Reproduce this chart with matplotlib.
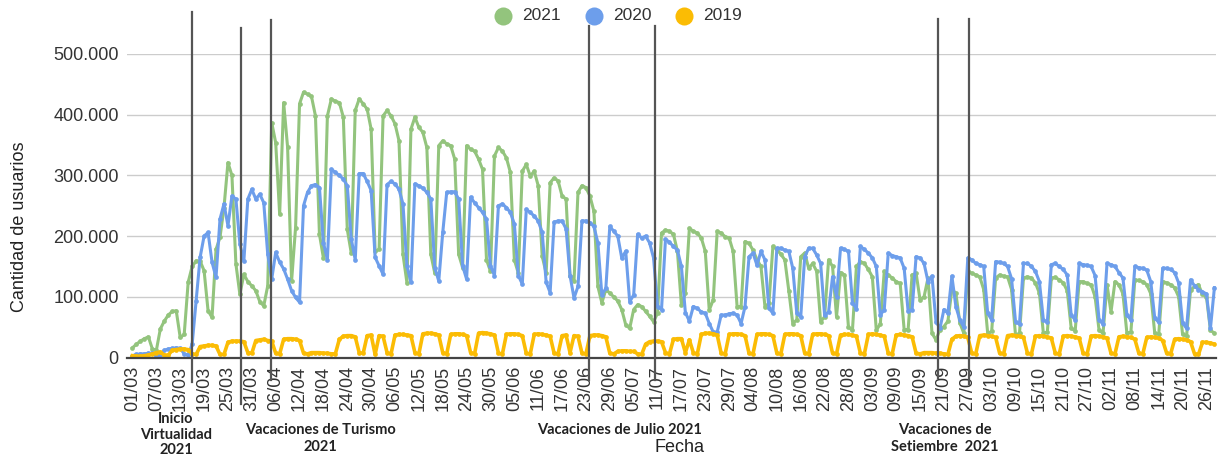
import numpy as np
import matplotlib
matplotlib.use("Agg")
import matplotlib.pyplot as plt
import matplotlib.transforms as mtransforms
from matplotlib.lines import Line2D

W, H, DPI = 1223, 455, 100

# ---------------- data (daily users, thousands; 01/03 .. 28/11) ----------------
series_names = ["2021", "2020", "2019"]
series_colors = ["#93c47d", "#6d9eeb", "#fbbc04"]

users_2021 = [
    16, 22, 27, 31, 34, 14, 12,
    47, 60, 70, 76, 77, 33, 38,
    124, 150, 159, 159, 143, 77, 66,
    178, 198, 247, 321, 300, 154, 104,
    137, 125, 118, 110, 92, 85, 118,
    387, 354, 236, 420, 346, 126, 214,
    418, 437, 434, 430, 398, 203, 164,
    398, 426, 422, 420, 396, 211, 172,
    407, 426, 418, 409, 376, 175, 178,
    398, 407, 398, 385, 357, 170, 123,
    376, 396, 379, 371, 346, 170, 139,
    349, 357, 352, 349, 327, 170, 148,
    349, 343, 340, 327, 310, 161, 142,
    332, 346, 340, 329, 305, 161, 139,
    307, 318, 299, 307, 283, 167, 139,
    288, 296, 291, 266, 261, 134, 126,
    272, 283, 280, 266, 241, 117, 90,
    112, 106, 100, 93, 79, 54, 48,
    79, 87, 84, 76, 68, 59, 73,
    205, 210, 208, 203, 175, 86, 106,
    213, 208, 205, 197, 175, 78, 95,
    208, 205, 199, 197, 175, 84, 84,
    191, 188, 177, 161, 150, 84, 89,
    183, 178, 170, 161, 110, 56, 62,
    166, 172, 147, 155, 142, 59, 67,
    161, 150, 67, 140, 136, 50, 45,
    150, 158, 155, 145, 133, 45, 55,
    142, 136, 131, 125, 122, 46, 46,
    136, 139, 95, 100, 131, 40, 29,
    46, 51, 60, 112, 106, 57, 40,
    142, 139, 136, 133, 112, 40, 43,
    131, 136, 134, 133, 112, 37, 40,
    131, 133, 131, 123, 106, 40, 42,
    131, 132, 128, 123, 110, 48, 44,
    125, 125, 122, 120, 100, 45, 40,
    120, 75, 125, 120, 105, 40, 42,
    128, 127, 125, 120, 105, 40, 38,
    125, 123, 120, 115, 100, 38, 35,
    111, 117, 120, 104, 100, 45, 40,
]

users_2020 = [
    3, 5, 6, 6, 7, 7, 3,
    3, 12, 14, 15, 16, 15, 6,
    4, 22, 93, 165, 200, 206, 157,
    132, 228, 253, 217, 266, 261, 187,
    159, 261, 277, 261, 269, 255, 170,
    129, 173, 157, 146, 129, 110, 99,
    91, 250, 272, 283, 285, 280, 189,
    161, 310, 305, 300, 294, 283, 195,
    161, 303, 303, 290, 275, 165, 151,
    137, 285, 290, 286, 277, 253, 151,
    124, 286, 283, 279, 272, 261, 148,
    126, 206, 272, 273, 273, 261, 151,
    129, 264, 255, 247, 239, 228, 151,
    135, 250, 253, 247, 239, 220, 135,
    121, 244, 239, 233, 225, 206, 124,
    107, 223, 225, 225, 212, 135, 98,
    117, 225, 225, 222, 216, 189, 103,
    114, 216, 208, 200, 164, 175, 92,
    103, 203, 197, 200, 189, 164, 84,
    79, 195, 190, 183, 177, 150, 74,
    60, 84, 81, 75, 73, 56, 42,
    42, 70, 70, 72, 73, 70, 56,
    84, 166, 172, 152, 175, 161, 81,
    73, 180, 180, 177, 175, 147, 73,
    67, 166, 180, 180, 169, 155, 70,
    75, 133, 100, 180, 178, 175, 90,
    80, 183, 178, 172, 164, 150, 70,
    79, 172, 168, 166, 164, 147, 76,
    79, 166, 164, 155, 125, 134, 59,
    48, 79, 73, 134, 84, 62, 50,
    164, 161, 155, 153, 150, 73, 62,
    158, 157, 155, 150, 130, 59, 55,
    155, 155, 150, 142, 125, 62, 58,
    153, 155, 150, 145, 136, 70, 62,
    155, 153, 152, 150, 135, 62, 55,
    155, 153, 150, 140, 131, 70, 62,
    150, 148, 147, 144, 125, 65, 58,
    147, 147, 145, 140, 123, 57, 48,
    128, 118, 112, 108, 105, 48, 115,
]

users_2019 = [
    3, 2, 2, 3, 4, 6, 8,
    9, 4, 4, 12, 13, 14, 14,
    13, 6, 5, 18, 19, 20, 20,
    19, 5, 5, 25, 27, 27, 27,
    26, 8, 7, 28, 29, 30, 28,
    27, 7, 6, 30, 31, 31, 30,
    28, 7, 6, 8, 8, 8, 7,
    7, 6, 6, 30, 35, 36, 36,
    34, 8, 7, 36, 37, 5, 36,
    35, 8, 6, 37, 38, 38, 37,
    36, 8, 6, 39, 40, 40, 39,
    37, 8, 6, 38, 39, 39, 38,
    36, 8, 6, 40, 41, 40, 39,
    37, 7, 6, 38, 39, 39, 38,
    36, 7, 6, 38, 39, 38, 37,
    35, 7, 6, 36, 37, 8, 36,
    35, 7, 6, 36, 37, 37, 36,
    34, 7, 6, 10, 11, 11, 10,
    10, 6, 5, 22, 26, 27, 27,
    26, 8, 6, 30, 31, 31, 8,
    29, 8, 6, 38, 40, 40, 39,
    37, 7, 6, 38, 39, 39, 38,
    36, 7, 6, 38, 39, 39, 38,
    36, 7, 6, 38, 39, 39, 38,
    36, 7, 6, 38, 39, 39, 38,
    36, 7, 6, 37, 38, 38, 37,
    35, 7, 6, 38, 39, 38, 37,
    35, 7, 6, 37, 38, 37, 36,
    34, 7, 6, 8, 8, 8, 7,
    7, 6, 5, 30, 35, 36, 35,
    33, 7, 6, 36, 37, 36, 35,
    33, 7, 6, 36, 37, 36, 35,
    33, 7, 6, 35, 36, 35, 34,
    32, 7, 6, 35, 36, 35, 34,
    32, 7, 6, 35, 36, 35, 34,
    32, 7, 6, 34, 35, 34, 33,
    30, 7, 6, 33, 34, 33, 32,
    28, 7, 6, 30, 31, 30, 29,
    26, 6, 5, 25, 25, 24, 22,
]

tick_labels = ["01/03", "07/03", "13/03", "19/03", "25/03", "31/03", "06/04", "12/04",
               "18/04", "24/04", "30/04", "06/05", "12/05", "18/05", "24/05", "30/05",
               "05/06", "11/06", "17/06", "23/06", "29/06", "05/07", "11/07", "17/07",
               "23/07", "29/07", "04/08", "10/08", "16/08", "22/08", "28/08", "03/09",
               "09/09", "15/09", "21/09", "27/09", "03/10", "09/10", "15/10", "21/10",
               "27/10", "02/11", "08/11", "14/11", "20/11", "26/11"]
ytick_values = [0, 100, 200, 300, 400, 500]
ytick_labels = ["0", "100.000", "200.000", "300.000", "400.000", "500.000"]

# event marker lines (day index from 01/03)
event_days = [14.9, 27.4, 34.9, 114.8, 131.3, 202.5, 210.4]
event_labels = ["Inicio\nVirtualidad\n2021", "Vacaciones de Turismo\n2021",
                "Vacaciones de Julio 2021", "Vacaciones de\nSetiembre  2021"]

# ---------------- figure ----------------
plt.rcParams["font.family"] = ["Liberation Sans", "DejaVu Sans"]
fig = plt.figure(figsize=(W / DPI, H / DPI), dpi=DPI)
fig.patch.set_facecolor("white")

ax_l, ax_r, ax_t, ax_b = 127, 1216, 54, 357.5
ax = fig.add_axes([ax_l / W, 1 - ax_b / H, (ax_r - ax_l) / W, (ax_b - ax_t) / H])

N = len(users_2021)
x = np.arange(N)
all_series = [users_2021, users_2020, users_2019]
for vals, col, name in zip(all_series, series_colors, series_names):
    n = min(len(vals), N)
    lw = 2.6 if name == "2019" else 2.2
    ax.plot(x[:n], vals[:n], color=col, lw=lw, marker="o", ms=3.4,
            markeredgewidth=0, solid_joinstyle="round", zorder=3)

ax.set_xlim(-1.38, 272.4)
ax.set_ylim(0, 500)
ax.set_yticks(ytick_values)
ax.set_yticklabels(ytick_labels)
ax.set_xticks(np.arange(len(tick_labels)) * 6)
ax.set_xticklabels(tick_labels, rotation=90)
ax.tick_params(axis="both", length=0, labelsize=13, colors="#333333")
ax.tick_params(axis="x", pad=6)
ax.tick_params(axis="y", pad=6)
ax.grid(axis="y", color="#cccccc", lw=1.0, zorder=0)
for s in ["top", "right", "left"]:
    ax.spines[s].set_visible(False)
ax.spines["bottom"].set_color("#444444")
ax.spines["bottom"].set_linewidth(1.6)
ax.spines["bottom"].set_zorder(4)

# event vertical lines (extend outside the axes)
trans = mtransforms.blended_transform_factory(ax.transData, fig.transFigure)
line_tops = [12, 28, 20, 26, 26, 19, 19]
line_bots = [382, 404, 380, 380, 380, 378, 384]
for d, t, b in zip(event_days, line_tops, line_bots):
    ax.plot([d, d], [1 - t / H, 1 - b / H], transform=trans, clip_on=False,
            color="#555555", lw=1.6, zorder=5)

# axis titles
fig.text(20 / W, 1 - 227 / H, "Cantidad de usuarios", rotation=90, ha="center",
         va="center", fontsize=13, color="#222222")
fig.text(680 / W, 1 - 447 / H, "Fecha", ha="center", va="center",
         fontsize=13, color="#222222")

# legend
leg_items = [(503, 522), (594, 613), (684, 703)]
for (cx, tx), col, name in zip(leg_items, series_colors, series_names):
    fig.add_artist(Line2D([cx / W], [1 - 16 / H], marker="o", ms=13, color=col,
                          markeredgewidth=0, transform=fig.transFigure))
    fig.text(tx / W, 1 - 16 / H, name, ha="left", va="center", fontsize=12.5,
             color="#333333")

# event annotations
ann_font = dict(family=["Lato", "DejaVu Sans"], fontweight="bold", fontsize=10.5,
                color="#222222", ha="center", va="center")
ann_pos = [(176, [419, 435, 450]), (320, [430, 447]), (620, [430]), (945, [430, 447])]
for text, (cx, ys) in zip(event_labels, ann_pos):
    for line, yy in zip(text.split("\n"), ys):
        fig.text(cx / W, 1 - yy / H, line, **ann_font)

fig.savefig("out.png", dpi=DPI, facecolor="white")
